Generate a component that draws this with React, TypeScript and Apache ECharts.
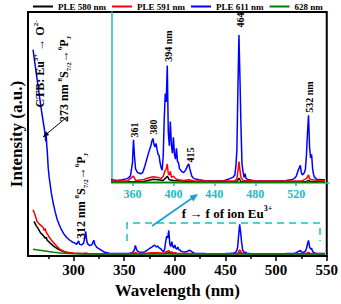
import React, { useEffect, useRef } from 'react';
import * as echarts from 'echarts';

// ---- Data (wavelength nm, intensity a.u.) ----
const wl611 = [260, 262, 264, 266, 268, 270, 271, 272, 272.5, 273, 273.5, 274, 275, 276, 278, 280, 282, 284, 287, 290, 293, 296, 299, 301, 303, 305, 306, 308, 310, 311, 312, 313, 314, 316, 318, 320, 321, 323, 326, 330, 335, 340, 345, 350, 355, 358, 360, 361, 362, 363, 365, 368, 370, 372, 374, 376, 378, 379, 380, 381, 382, 383, 384, 385, 386, 387, 388, 389, 390, 391, 392, 393, 394, 395, 396, 397, 398, 399, 400, 401, 402, 403, 404, 405, 406, 408, 410, 412, 414, 415, 416, 418, 420, 425, 430, 440, 450, 455, 458, 460, 461, 462, 463, 464, 465, 466, 467, 468, 469, 470, 471, 474, 480, 490, 500, 510, 515, 518, 520, 522, 524, 525, 526, 528, 529, 530, 531, 532, 533, 534, 535, 536, 537, 538, 540, 545, 548];
const v611 = [84.6, 78.5, 72.5, 66.4, 60.5, 55, 52.5, 49.4, 47, 49.5, 45.5, 43, 36, 32, 25.9, 21.5, 17.8, 14.8, 11.7, 9.3, 7.7, 6.6, 5.7, 5.4, 4.8, 6.2, 4.8, 4.6, 5.4, 7.5, 10, 6.2, 5, 4.3, 4.6, 6.5, 4.8, 3.6, 2.8, 1.7, 1.2, 1.1, 1.05, 1.1, 1.2, 1.4, 2.5, 4.4, 3.0, 2.0, 1.7, 1.6, 1.7, 2.2, 2.8, 3.4, 3.9, 4.3, 4.5, 4.0, 3.8, 4.1, 3.6, 3.2, 3.1, 2.5, 2.1, 1.9, 3.0, 6.0, 8.2, 7.5, 10.5, 5.0, 3.9, 5.9, 4.0, 3.3, 4.6, 3.2, 2.8, 3.7, 2.6, 2.5, 2.0, 1.8, 1.7, 1.9, 2.3, 2.4, 2.0, 1.4, 1.2, 1.1, 1.05, 1.0, 1.05, 1.2, 1.3, 1.5, 2.2, 3.5, 8.5, 13, 9.5, 5.5, 2.4, 1.8, 1.3, 1.6, 1.2, 1.1, 1.0, 1.0, 1.0, 1.05, 1.1, 1.2, 1.4, 1.9, 2.3, 1.7, 1.5, 1.7, 2.0, 3.2, 5.0, 6.4, 3.8, 2.9, 3.2, 2.0, 1.5, 1.3, 1.15, 1.1, 1.1];

const wl591 = [260, 262, 264, 266, 268, 270, 271, 272, 273, 274, 276, 278, 280, 283, 286, 290, 295, 300, 310, 312, 314, 330, 355, 361, 363, 370, 375, 380, 385, 388, 390, 392, 393, 394, 395, 396, 397, 398, 400, 402, 405, 410, 415, 420, 460, 462, 463, 464, 465, 466, 468, 480, 525, 530, 532, 533, 535, 548];
const v591 = [19, 16.8, 14.2, 13.2, 12.5, 11.7, 10.5, 11.3, 9.7, 9.2, 7.7, 6.6, 5.7, 4.2, 3.0, 2.0, 1.4, 1.2, 1.1, 1.3, 1.1, 1.0, 1.0, 1.4, 1.05, 1.1, 1.25, 1.35, 1.3, 1.2, 1.4, 1.9, 2.0, 2.4, 1.6, 1.5, 1.8, 1.3, 1.4, 1.2, 1.1, 1.05, 1.1, 1.0, 1.0, 1.2, 1.8, 2.6, 1.9, 1.3, 1.05, 1.0, 1.0, 1.2, 1.5, 1.2, 1.1, 1.0];

const wl580 = [261, 263, 265, 267, 268, 270, 272, 273, 274, 277, 280, 282, 285, 287, 292, 300, 310, 330, 370, 380, 385, 390, 394, 396, 400, 420, 462, 464, 466, 530, 532, 534, 548];
const v580 = [14.2, 12.5, 11.3, 9.8, 9.3, 8.5, 7.3, 7.7, 6.5, 5.3, 4.2, 3.6, 2.8, 2.4, 1.6, 1.2, 1.0, 0.95, 0.95, 1.15, 1.1, 1.05, 1.4, 1.1, 1.05, 0.95, 0.95, 1.25, 0.95, 0.95, 1.05, 0.95, 0.95];

const wl628 = [260, 265, 270, 275, 280, 285, 290, 295, 300, 320, 548];
const v628 = [2.8, 2.5, 2.2, 1.9, 1.6, 1.35, 1.2, 1.05, 0.95, 0.9, 0.9];

const seriesNames = ['PLE 580 nm', 'PLE 591 nm', 'PLE 611 nm', '628 nm'];
const seriesColors = ['#000000', '#ff0000', '#0000ff', '#008000'];

const mainMajorTicks = [300, 350, 400, 450, 500, 550];
const mainMinorTicks = [275, 325, 375, 425, 475, 525];
const insetTicks = [360, 400, 440, 480, 520];

const peakLabels = [
  { text: '361', x: 134, y: 130 },
  { text: '380', x: 153, y: 127 },
  { text: '394 nm', x: 168, y: 46 },
  { text: '415', x: 190, y: 155 },
  { text: '464', x: 240, y: 20 },
  { text: '532 nm', x: 309, y: 97 },
];

const FONT = "'Liberation Serif', 'Times New Roman', serif";
const CYAN = '#1cbcc6';

function zip(xs: number[], ys: number[]) {
  return xs.map((x, i) => [x, ys[i]]);
}

function arrowHead(x1: number, y1: number, x2: number, y2: number, len: number, half: number) {
  const dx = x2 - x1, dy = y2 - y1;
  const L = Math.sqrt(dx * dx + dy * dy);
  const ux = dx / L, uy = dy / L;
  const bx = x2 - ux * len, by = y2 - uy * len;
  const px = -uy, py = ux;
  return [[x2, y2], [bx + px * half, by + py * half], [bx - px * half, by - py * half]];
}

const richStyles = (size: number, color: string) => ({
  n: { fontSize: size, fontWeight: 'bold', fontFamily: FONT, color, lineHeight: size + 4, verticalAlign: 'middle' },
  sup: { fontSize: Math.round(size * 0.62), fontWeight: 'bold', fontFamily: FONT, color, lineHeight: size + 4, verticalAlign: 'top' },
  sub: { fontSize: Math.round(size * 0.62), fontWeight: 'bold', fontFamily: FONT, color, lineHeight: size + 4, verticalAlign: 'bottom' },
});

export default function App() {
  const ref = useRef<HTMLDivElement>(null);
  useEffect(() => {
    if (!ref.current) return;
    const chart = echarts.init(ref.current, undefined, { renderer: 'svg' });
    const dataSets = [zip(wl580, v580), zip(wl591, v591), zip(wl611, v611), zip(wl628, v628)];
    const order = [2, 0, 1, 3];
    const series: any[] = [];
    order.forEach((i) => {
      series.push({
        name: seriesNames[i], type: 'line', data: dataSets[i], xAxisIndex: 0, yAxisIndex: 0,
        showSymbol: false, symbol: 'none', lineStyle: { color: seriesColors[i], width: 1.5 }, itemStyle: { color: seriesColors[i] },
        clip: true, z: 3,
      });
    });
    order.forEach((i) => {
      series.push({
        name: seriesNames[i], type: 'line', data: dataSets[i], xAxisIndex: 2, yAxisIndex: 1,
        showSymbol: false, symbol: 'none', lineStyle: { color: seriesColors[i], width: 1.5 }, itemStyle: { color: seriesColors[i] },
        clip: true, z: 3,
      });
    });

    const blueHead = arrowHead(152, 226, 198, 194, 8, 3.5);
    const blackHead = arrowHead(67, 117, 43, 137, 6, 2.5);

    const option: any = {
      animation: false,
      backgroundColor: '#ffffff',
      legend: {
        data: seriesNames,
        top: 0, left: 33,
        itemWidth: 20, itemHeight: 2, itemGap: 6, icon: 'rect',
        textStyle: { fontFamily: FONT, fontWeight: 'bold', fontSize: 9, color: '#000' },
        padding: [2, 0, 0, 0],
      },
      grid: [
        { left: 22, right: 12, top: 12, bottom: 45, show: true, borderColor: '#000', borderWidth: 2, containLabel: false },
        { left: 112, right: 12, top: 12, bottom: 121, show: false, containLabel: false },
      ],
      xAxis: [
        {
          gridIndex: 0, type: 'value', min: 255, max: 550,
          axisLine: { show: true, lineStyle: { color: '#000', width: 2 } },
          axisTick: { show: true, customValues: mainMajorTicks, length: 5, inside: false, lineStyle: { color: '#000', width: 1.5 } },
          axisLabel: { show: true, customValues: mainMajorTicks, margin: 6, fontFamily: FONT, fontWeight: 'bold', fontSize: 15, color: '#000' },
          splitLine: { show: false },
          name: 'Wavelength (nm)', nameLocation: 'middle', nameGap: 25,
          nameTextStyle: { fontFamily: FONT, fontWeight: 'bold', fontSize: 17, color: '#000' },
        },
        {
          gridIndex: 0, type: 'value', min: 255, max: 550,
          axisLine: { show: false },
          axisTick: { show: true, customValues: mainMinorTicks, length: 3, inside: false, lineStyle: { color: '#000', width: 1.5 } },
          axisLabel: { show: false }, splitLine: { show: false }, position: 'bottom',
        },
        {
          gridIndex: 1, type: 'value', min: 340, max: 552,
          axisLine: { show: true, lineStyle: { color: CYAN, width: 1.5 } },
          axisTick: { show: true, customValues: insetTicks, length: 3, inside: false, lineStyle: { color: CYAN, width: 1.5 } },
          axisLabel: { show: true, customValues: insetTicks, margin: 5, fontFamily: FONT, fontWeight: 'bold', fontSize: 12, color: CYAN },
          splitLine: { show: false },
        },
      ],
      yAxis: [
        {
          gridIndex: 0, type: 'value', min: 0, max: 100,
          axisLine: { show: true, lineStyle: { color: '#000', width: 2 } },
          axisTick: { show: false }, axisLabel: { show: false }, splitLine: { show: false },
          name: 'Intensity (a.u.)', nameLocation: 'middle', nameGap: 3,
          nameTextStyle: { fontFamily: FONT, fontWeight: 'bold', fontSize: 17, color: '#000' },
        },
        {
          gridIndex: 1, type: 'value', min: 0.84, max: 14.9,
          axisLine: { show: true, lineStyle: { color: CYAN, width: 1.5 } },
          axisTick: { show: false }, axisLabel: { show: false }, splitLine: { show: false },
        },
      ],
      series,
      graphic: [
        {
          type: 'text', x: 40, y: 64, rotation: Math.PI / 2, z: 10,
          style: { text: '{n|CTB: Eu}{sup|3+}{n| → O}{sup|2-}', rich: richStyles(12, '#ff0000'), align: 'center', verticalAlign: 'middle' },
        },
        {
          type: 'text', x: 64, y: 79, rotation: Math.PI / 2, z: 10,
          style: { text: '{n|273 nm }{sup|8}{n|S}{sub|7/2}{n|→}{sup|6}{n|P}{sub|J}', rich: richStyles(12, '#000'), align: 'center', verticalAlign: 'middle' },
        },
        {
          type: 'text', x: 81, y: 196, rotation: Math.PI / 2, z: 10,
          style: { text: '{n|312 nm }{sup|8}{n|S}{sub|7/2}{n|→}{sup|6}{n|P}{sub|J}', rich: richStyles(12, '#000'), align: 'center', verticalAlign: 'middle' },
        },
        {
          type: 'line', z: 10, shape: { x1: 67, y1: 117, x2: 43, y2: 137 }, style: { stroke: '#000', lineWidth: 1 },
        },
        { type: 'polygon', z: 10, shape: { points: blackHead }, style: { fill: '#000' } },
        {
          type: 'polyline', z: 10, shape: { points: [[127, 241], [127, 223], [320, 223], [320, 241]] },
          style: { stroke: CYAN, lineWidth: 1.5, lineDash: [7, 5], fill: 'none' },
        },
        {
          type: 'text', x: 227, y: 213, z: 10,
          style: { text: '{n|f → f of ion Eu}{sup|3+}', rich: richStyles(13, '#000'), align: 'center', verticalAlign: 'middle' },
        },
        {
          type: 'line', z: 10, shape: { x1: 152, y1: 226, x2: 193, y2: 197.5 }, style: { stroke: '#1b9fd6', lineWidth: 1.8 },
        },
        { type: 'polygon', z: 10, shape: { points: blueHead }, style: { fill: '#1b9fd6' } },
        ...peakLabels.map((p) => ({
          type: 'text', x: p.x, y: p.y, rotation: Math.PI / 2, z: 10,
          style: { text: p.text, fontFamily: FONT, fontWeight: 'bold', fontSize: 10, fill: '#000', align: 'center', verticalAlign: 'middle' },
        })),
      ],
    };
    chart.setOption(option);
    return () => chart.dispose();
  }, []);
  return <div ref={ref} style={{ width: 341, height: 304, position: 'absolute', left: 0, top: 0 }} />;
}
